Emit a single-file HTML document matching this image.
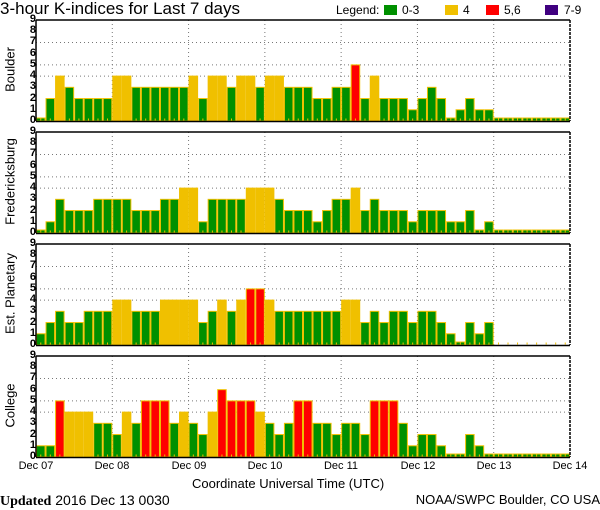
<!DOCTYPE html>
<html><head><meta charset="utf-8">
<style>
body{margin:0;background:#fff;width:600px;height:510px;overflow:hidden;position:relative;font-family:"Liberation Sans",sans-serif;color:#000}
.t{position:absolute;white-space:nowrap}
.yl{position:absolute;left:24px;width:12px;text-align:right;font-size:11px;line-height:11.22px;font-weight:bold}
.pl{position:absolute;font-size:13px;transform:rotate(-90deg);transform-origin:center;text-align:center;width:120px}
.xl{position:absolute;top:460px;font-size:11px;width:60px;text-align:center}
</style></head><body>
<svg id="s" width="600" height="510" style="position:absolute;left:0;top:0"></svg>
<div class="t" style="left:0;top:-1px;font-size:17px;">3-hour K-indices for Last 7 days</div>
<div class="t" style="left:336px;top:3px;font-size:12px;">Legend:</div>
<div class="t" style="left:402px;top:3px;font-size:12px;">0-3</div>
<div class="t" style="left:463px;top:3px;font-size:12px;">4</div>
<div class="t" style="left:504px;top:3px;font-size:12px;">5,6</div>
<div class="t" style="left:564px;top:3px;font-size:12px;">7-9</div>
<div class="yl" style="top:14px">9<br>8<br>7<br>6<br>5<br>4<br>3<br>2<br>1<br>0</div>
<div class="yl" style="top:126px">9<br>8<br>7<br>6<br>5<br>4<br>3<br>2<br>1<br>0</div>
<div class="yl" style="top:238px">9<br>8<br>7<br>6<br>5<br>4<br>3<br>2<br>1<br>0</div>
<div class="yl" style="top:350px">9<br>8<br>7<br>6<br>5<br>4<br>3<br>2<br>1<br>0</div>
<div class="pl" style="left:-50px;top:62px">Boulder</div>
<div class="pl" style="left:-50px;top:174px">Fredericksburg</div>
<div class="pl" style="left:-50px;top:286px">Est. Planetary</div>
<div class="pl" style="left:-50px;top:398px">College</div>
<div class="xl" style="left:6px">Dec 07</div>
<div class="xl" style="left:82px">Dec 08</div>
<div class="xl" style="left:159px">Dec 09</div>
<div class="xl" style="left:235px">Dec 10</div>
<div class="xl" style="left:311px">Dec 11</div>
<div class="xl" style="left:388px">Dec 12</div>
<div class="xl" style="left:464px">Dec 13</div>
<div class="xl" style="left:540px">Dec 14</div>
<div class="t" style="left:192px;top:476px;font-size:13px;">Coordinate Universal Time (UTC)</div>
<div class="t" style="left:0;top:492px;font-size:14px;"><b style="font-family:'Liberation Serif',serif">Updated</b> 2016 Dec 13 0030</div>
<div class="t" style="right:0;top:492px;font-size:13px;">NOAA/SWPC Boulder, CO USA</div>
<script>
var s=document.getElementById('s'),h='';
var L=36,R=570,W=(R-L)/56,U=101/9;
h+='<rect x="384" y="5" width="13" height="10" fill="#009000"/><rect x="445" y="5" width="13" height="10" fill="#f0c000"/><rect x="486" y="5" width="13" height="10" fill="#ff0000"/><rect x="545" y="5" width="13" height="10" fill="#400080"/>';
var data=[
[0,2,4,3,2,2,2,2, 4,4,3,3,3,3,3,3, 4,2,4,4,3,4,4,3, 4,4,3,3,3,2,2,3, 3,5,2,4,2,2,2,1, 2,3,2,0,1,2,1,1, 0,0,0,0,0,0,0,0],
[0,1,3,2,2,2,3,3, 3,3,2,2,2,3,3,4, 4,1,3,3,3,3,4,4, 4,3,2,2,2,1,2,3, 3,4,2,3,2,2,2,1, 2,2,2,1,1,2,0,1, 0,0,0,0,0,0,0,0],
[1,2,3,2,2,3,3,3, 4,4,3,3,3,4,4,4, 4,2,3,4,3,4,5,5, 4,3,3,3,3,3,3,3, 4,4,2,3,2,3,3,2, 3,3,2,1,0,2,1,2, -1,-1,-1,-1,-1,-1,-1,-1],
[1,1,5,4,4,4,3,3, 2,4,3,5,5,5,3,4, 3,2,4,6,5,5,5,4, 3,2,3,5,5,3,3,2, 3,3,2,5,5,5,3,1, 2,2,1,0,0,2,1,0, 0,0,0,0,0,0,0,0]];
var tops=[20,132,244,356];
data.forEach(function(d,p){
 var T=tops[p],B=T+101;
 [4,5,7].forEach(function(k){var y=B-k*U;h+='<line x1="'+L+'" x2="'+R+'" y1="'+y+'" y2="'+y+'" stroke="#777" stroke-dasharray="1,3"/>';});
 for(var j=1;j<7;j++){var x=L+j*8*W;h+='<line x1="'+x+'" x2="'+x+'" y1="'+T+'" y2="'+B+'" stroke="#777" stroke-dasharray="1,3"/>';}
 d.forEach(function(v,i){
  var x=L+i*W;
  if(v>=0){var ht=v==0?3:v*U;var c=v<=3?'#009000':v==4?'#f0c000':v<=6?'#ff0000':'#400080';
   h+='<rect x="'+(x+0.5)+'" y="'+(B-ht)+'" width="'+(W-1)+'" height="'+ht+'" fill="'+c+'" stroke="#f0c000" stroke-width="1"/>';}
  h+='<rect x="'+(x+W/2-0.5)+'" y="'+(B-2.5)+'" width="1" height="2" fill="#f0c000"/>';
 });
 h+='<line x1="'+L+'" x2="'+R+'" y1="'+T+'" y2="'+T+'" stroke="#000" stroke-width="1.5"/>';
 h+='<line x1="'+L+'" x2="'+R+'" y1="'+(B+0.5)+'" y2="'+(B+0.5)+'" stroke="#000" stroke-width="1.5"/>';
 h+='<line x1="'+L+'" x2="'+L+'" y1="'+T+'" y2="'+B+'" stroke="#000" stroke-width="1.5"/>';
 h+='<line x1="'+R+'" x2="'+R+'" y1="'+T+'" y2="'+B+'" stroke="#000" stroke-width="1.5" stroke-dasharray="3,1"/>';
});
s.innerHTML=h;
</script>
</body></html>
